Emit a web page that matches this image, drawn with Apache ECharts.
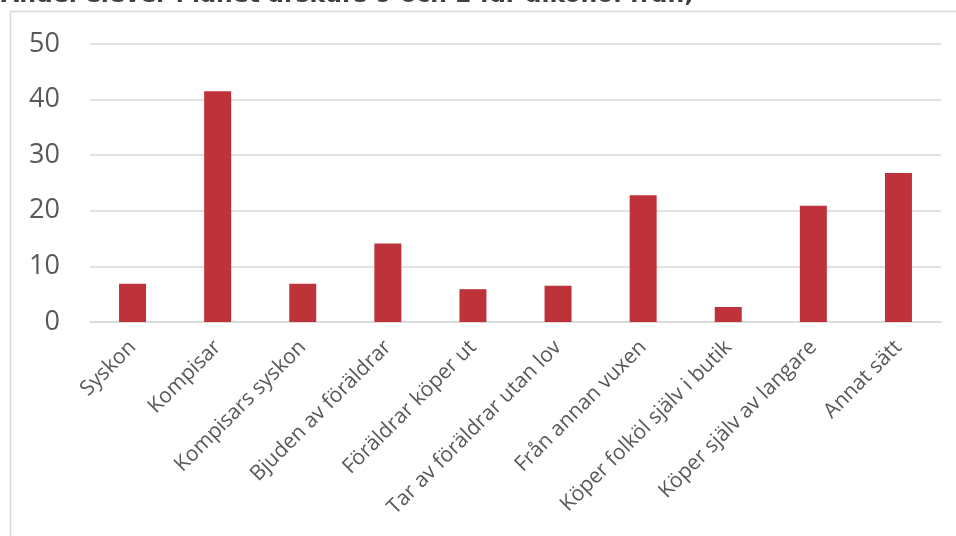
<!DOCTYPE html>
<html>
<head>
<meta charset="utf-8">
<script src="https://cdn.jsdelivr.net/npm/echarts@6/dist/echarts.min.js"></script>
<style>
    html, body {margin: 0; padding: 0; background: #fff;}
    #chart {width: 956px; height: 536px;}
</style>
</head>
<body>
<div id="chart"></div>
<script>
const title = 'Andel elever i länet årskurs 9 och 2 får alkohol från;'
const categories = [
    'Syskon',
    'Kompisar',
    'Kompisars syskon',
    'Bjuden av föräldrar',
    'Föräldrar köper ut',
    'Tar av föräldrar utan lov',
    'Från annan vuxen',
    'Köper folköl själv i butik',
    'Köper själv av langare',
    'Annat sätt',
]
const values = [6.9, 41.5, 6.9, 14.1, 5.9, 6.5, 22.8, 2.7, 20.9, 26.8]
const yTicks = [0, 10, 20, 30, 40, 50]

const myChart = echarts.init(document.getElementById('chart'))

const option = {
    backgroundColor: '#fff',
    animation: false,
    graphic: [
        {
            type: 'rect',
            shape: {x: 10.5, y: 11.5, width: 1000, height: 600},
            style: {fill: 'none', stroke: '#D9D9D9', lineWidth: 1.5},
            silent: true,
        },
        {
            type: 'text',
            x: 1,
            y: 8,
            style: {
                text: title,
                fontFamily: 'DejaVu Sans',
                fontWeight: 'bold',
                fontSize: 23.5,
                fill: '#404040',
                textVerticalAlign: 'bottom',
            },
            silent: true,
        },
    ],
    grid: {
        left: 90,
        right: 15,
        top: 44,
        bottom: 214,
        containLabel: false,
    },
    xAxis: {
        type: 'category',
        data: categories,
        axisLine: {show: true, lineStyle: {color: '#D9D9D9', width: 1.5}},
        axisTick: {show: false},
        axisLabel: {
            rotate: 45,
            interval: 0,
            margin: 22,
            color: '#595959',
            fontFamily: 'Open Sans',
            fontSize: 21,
        },
    },
    yAxis: {
        type: 'value',
        min: yTicks[0],
        max: yTicks[yTicks.length - 1],
        interval: 10,
        axisLine: {show: false},
        axisTick: {show: false},
        splitLine: {lineStyle: {color: '#D9D9D9', width: 1.5}},
        axisLabel: {
            margin: 30,
            color: '#595959',
            fontFamily: 'Open Sans',
            fontSize: 27,
        },
    },
    series: [
        {
            type: 'bar',
            data: values,
            barWidth: 27,
            itemStyle: {color: '#BE3239'},
        },
    ],
}

myChart.setOption(option)
</script>
</body>
</html>
